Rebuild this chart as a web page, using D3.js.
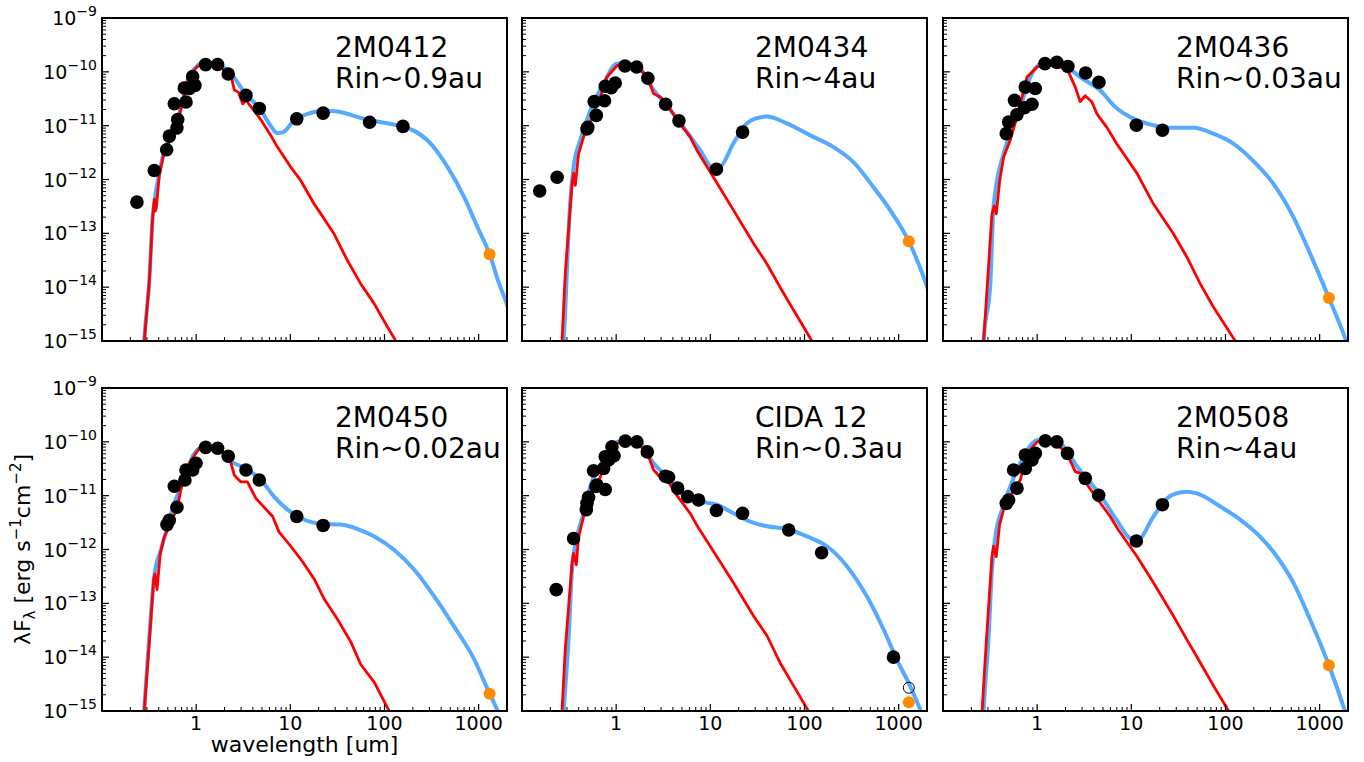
<!DOCTYPE html>
<html><head><meta charset="utf-8">
<script src="https://cdn.jsdelivr.net/npm/d3@7"></script>
<style>body{margin:0;background:#fff;} text{font-family:"DejaVu Sans",sans-serif;fill:#000;}</style>
</head><body><svg id="c" width="1364" height="762"></svg>
<script>
// ---------- data (wavelength [um], lambda*F_lambda [erg s^-1 cm^-2]) ----------
const panelNames = ["2M0412","2M0434","2M0436","2M0450","CIDA 12","2M0508"];
const panelRin = ["Rin~0.9au","Rin~4au","Rin~0.03au","Rin~0.02au","Rin~0.3au","Rin~4au"];
const xTickValues = [1,10,100,1000];
const xTickLabels = ["1","10","100","1000"];
const yTickExponents = [-9,-10,-11,-12,-13,-14,-15];
const xDomain = [0.1, 2000];
const yDomain = [1e-15, 1e-9];

// 2M0412
const obs2M0412 = [[0.235,3.8e-13],[0.359,1.47e-12],[0.486,3.56e-12],[0.519,6.4e-12],[0.625,9.1e-12],[0.637,1.3e-11],[0.586,2.56e-11],[0.78,2.75e-11],[0.748,5.0e-11],[0.97,5.6e-11],[0.918,8.2e-11],[0.845,4.9e-11],[1.26,1.36e-10],[1.69,1.37e-10],[2.19,9.1e-11],[3.38,3.65e-11],[4.68,2.09e-11],[11.7,1.34e-11],[22.3,1.71e-11],[69.5,1.16e-11],[157,9.7e-12]];
const mm2M0412 = [[1306,4.1e-14]];
const model2M0412 = [[0.275,5e-16],[0.281,1e-15],[0.318,1.3e-14],[0.345,2e-13],[0.365,4.6e-13],[0.406,1.3e-12],[0.458,3.5e-12],[0.54,6.1e-12],[0.636,1.26e-11],[0.72,2.9e-11],[0.81,6.9e-11],[1.0,1.23e-10],[1.17,1.5e-10],[1.4,1.48e-10],[1.69,1.37e-10],[2.34,9.3e-11],[3.38,3.8e-11],[4.68,2.15e-11],[6.3,9.5e-12],[7.2,7.3e-12],[8.3,7.5e-12],[11.0,1.26e-11],[15.3,1.66e-11],[22.9,1.9e-11],[30,1.85e-11],[66,1.29e-11],[149,9.7e-12],[207,8e-12],[311,4.6e-12],[468,1.7e-12],[702,4.7e-13],[973,1.3e-13],[1306,4.1e-14],[1652,1.15e-14],[1990,4.9e-15],[2300,2e-15]];
const phot2M0412 = [[0.275,4e-16],[0.281,1e-15],[0.318,1.3e-14],[0.345,2e-13],[0.36,4.3e-13],[0.368,2.6e-13],[0.378,3e-13],[0.406,1.2e-12],[0.458,3.2e-12],[0.54,6e-12],[0.636,1.2e-11],[0.72,2.8e-11],[0.81,6.7e-11],[1.0,1.2e-10],[1.17,1.45e-10],[1.4,1.45e-10],[1.69,1.35e-10],[2.2,9e-11],[2.35,8.5e-11],[2.54,4.6e-11],[2.8,4.2e-11],[3.12,2.55e-11],[3.4,3e-11],[3.7,2.4e-11],[4.5,1.55e-11],[5.0,1.2e-11],[6.2,6.6e-12],[7.3,4e-12],[10.1,1.7e-12],[12.9,9.6e-13],[17.9,3.5e-13],[21.1,2.3e-13],[29.2,9.7e-14],[40.5,3.1e-14],[56,1.15e-14],[78,4.9e-15],[108,1.8e-15],[132,1e-15],[150,6e-16]];

// 2M0434
const obs2M0434 = [[0.154,6.1e-13],[0.236,1.1e-12],[0.49,8.7e-12],[0.5,9.3e-12],[0.615,1.55e-11],[0.585,2.8e-11],[0.753,2.9e-11],[0.766,5.4e-11],[0.887,5.1e-11],[0.978,6.2e-11],[1.24,1.28e-10],[1.65,1.23e-10],[2.17,7.6e-11],[3.35,2.5e-11],[4.64,1.23e-11],[11.6,1.55e-12],[22,7.6e-12]];
const mm2M0434 = [[1282,7.1e-14]];
const model2M0434 = [[0.27,5e-16],[0.277,1e-15],[0.326,4.1e-13],[0.353,1.7e-12],[0.416,5.4e-12],[0.531,1.9e-11],[0.735,6e-11],[1.02,1.42e-10],[1.3,1.4e-10],[1.7,1.25e-10],[2.5,4.6e-11],[3.5,2.3e-11],[5.0,1.02e-11],[7.8,3.5e-12],[10.8,1.6e-12],[12.7,1.7e-12],[17.6,4.7e-12],[24.4,1.1e-11],[30,1.35e-11],[39.9,1.48e-11],[65,1.1e-11],[115,6.6e-12],[203,4e-12],[331,2.1e-12],[540,7.2e-13],[812,2.7e-13],[1282,7.1e-14],[1910,1.3e-14],[2300,5e-15]];
const phot2M0434 = [[0.262,5e-16],[0.266,1e-15],[0.288,1.8e-14],[0.34,8.3e-13],[0.353,1.3e-12],[0.368,7.8e-13],[0.399,3e-12],[0.451,6.2e-12],[0.575,1.66e-11],[0.678,3.4e-11],[0.798,8e-11],[1.02,1.3e-10],[1.2,1.4e-10],[1.6,1.25e-10],[2.12,8.6e-11],[2.5,3.9e-11],[2.94,3.4e-11],[3.3,2.8e-11],[4.6,1.18e-11],[6.1,6.2e-12],[7.2,3.5e-12],[10.8,1.1e-12],[17.6,2.7e-13],[28.8,6.5e-14],[40,2.7e-14],[55,1e-14],[77,3.7e-15],[120,1e-15],[140,5e-16]];

// 2M0436
const obs2M0436 = [[0.47,7.1e-12],[0.498,1.17e-11],[0.61,1.6e-11],[0.575,2.95e-11],[0.735,2.15e-11],[0.748,5.2e-11],[0.881,2.5e-11],[0.955,4.9e-11],[1.21,1.42e-10],[1.62,1.5e-10],[2.12,1.26e-10],[3.27,9.5e-11],[4.53,6.4e-11],[11.3,1.02e-11],[21.4,8.2e-12]];
const mm2M0436 = [[1253,6.3e-15]];
const model2M0436 = [[0.265,5e-16],[0.27,1e-15],[0.318,1.15e-14],[0.344,3.1e-13],[0.44,3e-12],[0.518,7.1e-12],[0.662,2.2e-11],[0.845,8e-11],[1.08,1.41e-10],[1.49,1.62e-10],[2.0,1.3e-10],[2.86,8e-11],[4.68,4.5e-11],[7.0,2.1e-11],[10.5,1.35e-11],[17.2,1.02e-11],[28,9.1e-12],[45.7,9.1e-12],[74.6,7.1e-12],[122,4.6e-12],[198,2.2e-12],[323,8.3e-13],[527,2e-13],[792,4.2e-14],[1253,6.3e-15],[1910,1e-15],[2100,6e-16]];
const phot2M0436 = [[0.265,5e-16],[0.27,1e-15],[0.293,8.7e-15],[0.331,2.3e-13],[0.35,3.2e-13],[0.368,2.3e-13],[0.4,9.5e-13],[0.44,2.6e-12],[0.518,5.4e-12],[0.61,1.45e-11],[0.69,3.4e-11],[0.78,8e-11],[1.0,1.23e-10],[1.27,1.32e-10],[1.7,1.3e-10],[2.15,1e-10],[2.54,5.2e-11],[2.86,2.8e-11],[3.24,3.6e-11],[3.82,2.75e-11],[4.31,1.66e-11],[5.5,9.3e-12],[7.0,4.6e-12],[11.5,1.3e-12],[17.2,3.5e-13],[28,9.8e-14],[39,3.6e-14],[54,1.15e-14],[75,4.2e-15],[127,1e-15],[140,6e-16]];

// 2M0450
const obs2M0450 = [[0.49,2.9e-12],[0.518,3.5e-12],[0.586,1.5e-11],[0.625,6.1e-12],[0.76,1.95e-11],[0.78,3e-11],[0.918,3e-11],[0.996,4e-11],[1.26,7.9e-11],[1.69,7.6e-11],[2.19,5.4e-11],[3.38,3e-11],[4.68,1.95e-11],[11.7,4.1e-12],[22.3,2.8e-12]];
const mm2M0450 = [[1306,2.1e-15]];
const model2M0450 = [[0.275,5e-16],[0.281,1e-15],[0.318,2.4e-14],[0.359,3.2e-13],[0.423,1e-12],[0.498,2.7e-12],[0.586,7.2e-12],[0.748,1.95e-11],[0.881,4.6e-11],[1.08,7.6e-11],[1.25,8.2e-11],[1.69,7.5e-11],[2.34,4.3e-11],[3.0,3.5e-11],[4.9,1.95e-11],[6.75,9.5e-12],[9.35,5.5e-12],[13,3.8e-12],[21.1,3e-12],[34.4,2.9e-12],[51.8,2.4e-12],[78,1.75e-12],[127,9.8e-13],[207,4.2e-13],[337,1.35e-13],[550,3.7e-14],[896,9.1e-15],[1306,2.1e-15],[1585,1e-15],[1800,5e-16]];
const phot2M0450 = [[0.275,5e-16],[0.281,1e-15],[0.318,1.9e-14],[0.354,2.8e-13],[0.365,3.5e-13],[0.384,1.8e-13],[0.416,8.5e-13],[0.458,1.7e-12],[0.54,3.1e-12],[0.636,6.3e-12],[0.72,1.95e-11],[0.845,4e-11],[1.08,7.6e-11],[1.22,8.1e-11],[1.6,7.5e-11],[2.24,5.3e-11],[2.54,2.4e-11],[2.99,1.8e-11],[3.5,1.8e-11],[4.31,8.9e-12],[6.5,4.1e-12],[7.6,2.1e-12],[10.1,1.15e-12],[13,6.5e-13],[18,2.8e-13],[22.9,1.2e-13],[31.8,5e-14],[44,1.9e-14],[56,7.3e-15],[78,3.4e-15],[112,1e-15],[130,6e-16]];

// CIDA 12
const obsCIDA12 = [[0.231,1.8e-13],[0.353,1.6e-12],[0.482,5.5e-12],[0.49,7.2e-12],[0.509,9.3e-12],[0.625,1.58e-11],[0.61,1.48e-11],[0.575,2.9e-11],[0.766,1.3e-11],[0.735,3.2e-11],[0.766,5.3e-11],[0.83,4.6e-11],[0.902,8.1e-11],[0.95,5.5e-11],[1.25,1.03e-10],[1.66,1e-10],[2.14,6.5e-11],[3.33,2.3e-11],[3.6,2.2e-11],[4.5,1.38e-11],[5.75,9.6e-12],[7.5,8.3e-12],[11.6,5.3e-12],[22,4.7e-12],[68,2.3e-12],[152,8.7e-13],[881,1e-14]];
const openCIDA12 = [[1282,2.7e-15]];
const mmCIDA12 = [[1282,1.45e-15]];
const modelCIDA12 = [[0.27,5e-16],[0.277,1e-15],[0.313,2.4e-14],[0.34,4.2e-13],[0.384,1.7e-12],[0.451,4.7e-12],[0.531,1.48e-11],[0.735,4.6e-11],[1.02,1e-10],[1.3,1.08e-10],[1.8,9.5e-11],[2.5,4e-11],[3.5,2.2e-11],[5.0,1.07e-11],[7.8,7.8e-12],[11.7,6.8e-12],[17.6,4.7e-12],[26.5,3.3e-12],[40,2.7e-12],[65,2.4e-12],[106,1.75e-12],[173,1.15e-12],[282,4.9e-13],[459,1.35e-13],[690,3.3e-14],[955,9.1e-15],[1324,2.9e-15],[1720,1e-15],[2000,5e-16]];
const photCIDA12 = [[0.262,5e-16],[0.266,1e-15],[0.288,1.4e-14],[0.34,5.6e-13],[0.353,8.5e-13],[0.377,5.2e-13],[0.399,1.7e-12],[0.451,4.1e-12],[0.575,1.29e-11],[0.678,2.2e-11],[0.798,5.3e-11],[1.02,9.3e-11],[1.25,1.05e-10],[1.6,1e-10],[2.12,6.5e-11],[2.5,3e-11],[2.94,2.2e-11],[3.4,2.1e-11],[4.4,1.02e-11],[6.1,4.7e-12],[7.5,2.5e-12],[11.7,7.4e-13],[17.6,2.4e-13],[28.8,5.8e-14],[40,2.5e-14],[55,7.9e-15],[77,2.9e-15],[110,1e-15],[125,6e-16]];

// 2M0508
const obs2M0508 = [[0.47,7.2e-12],[0.498,8.3e-12],[0.61,1.38e-11],[0.562,3e-11],[0.748,3.2e-11],[0.748,5.7e-11],[0.881,4.6e-11],[0.955,6.1e-11],[1.22,1.04e-10],[1.62,1e-10],[2.1,6.1e-11],[3.24,2.1e-11],[4.5,1.02e-11],[11.3,1.44e-12],[21.4,6.8e-12]];
const mm2M0508 = [[1253,7.1e-15]];
const model2M0508 = [[0.265,5e-16],[0.27,1e-15],[0.305,2.4e-14],[0.331,4.2e-13],[0.359,1.7e-12],[0.423,5.5e-12],[0.518,1.48e-11],[0.717,5.3e-11],[1.0,1.07e-10],[1.3,1.1e-10],[1.8,9e-11],[2.65,3.5e-11],[4.68,1.02e-11],[7.0,3.5e-12],[9.7,1.6e-12],[11.5,1.47e-12],[17.2,4.1e-12],[23.9,8.9e-12],[30,1.1e-11],[39,1.18e-11],[49.7,1.1e-11],[88,6.3e-12],[143,3.6e-12],[233,1.74e-12],[351,7.4e-13],[527,2.4e-13],[792,5e-14],[1253,7.1e-15],[1855,1e-15],[2100,5e-16]];
const phot2M0508 = [[0.255,5e-16],[0.26,1e-15],[0.288,1.9e-14],[0.331,7.4e-13],[0.344,1.15e-12],[0.368,7.4e-13],[0.399,2.9e-12],[0.44,5.5e-12],[0.562,1.29e-11],[0.662,1.95e-11],[0.78,6.1e-11],[1.0,1e-10],[1.17,1.07e-10],[1.5,1.02e-10],[2.07,6.1e-11],[2.54,2.8e-11],[2.9,2.6e-11],[3.24,1.8e-11],[4.31,8.9e-12],[5.97,4.1e-12],[7.3,2.3e-12],[11.5,7.4e-13],[17.2,2.4e-13],[28,5.8e-14],[39,2.1e-14],[54,7.9e-15],[75,2.9e-15],[108,1e-15],[125,6e-16]];

const panelObs = [obs2M0412, obs2M0434, obs2M0436, obs2M0450, obsCIDA12, obs2M0508];
const panelMM = [mm2M0412, mm2M0434, mm2M0436, mm2M0450, mmCIDA12, mm2M0508];
const panelOpen = [[], [], [], [], openCIDA12, []];
const panelModel = [model2M0412, model2M0434, model2M0436, model2M0450, modelCIDA12, model2M0508];
const panelPhot = [phot2M0412, phot2M0434, phot2M0436, phot2M0450, photCIDA12, phot2M0508];

// ---------- layout ----------
const colLeft = [102, 522, 943];
const rowTop = [18, 388];
const W = 405, H = 323;
const BLUE = "#55aaff", RED = "#ff0000", ORANGE = "#ff8c00";

const svg = d3.select("#c");
const x = d3.scaleLog().domain(xDomain).range([0, W]);
const y = d3.scaleLog().domain(yDomain).range([H, 0]);

const xMinor = [];
[0.1,1,10,100,1000].forEach(d => { for (let m = 2; m <= 9; m++) { const v = d*m; if (v < xDomain[1]) xMinor.push(v); } });
const yMinor = [];
for (let e = -15; e < -9; e++) for (let m = 2; m <= 9; m++) yMinor.push(m*Math.pow(10, e));

const lineModel = d3.line().x(d => x(d[0])).y(d => y(d[1])).curve(d3.curveMonotoneX);
const linePhot = d3.line().x(d => x(d[0])).y(d => y(d[1]));

panelNames.forEach((name, i) => {
  const col = i % 3, row = Math.floor(i / 3);
  const g = svg.append("g").attr("transform", `translate(${colLeft[col]},${rowTop[row]})`);
  const cid = "clip" + i;
  g.append("clipPath").attr("id", cid).append("rect").attr("width", W).attr("height", H);

  const plot = g.append("g").attr("clip-path", `url(#${cid})`);
  plot.append("path").datum(panelModel[i]).attr("d", lineModel)
    .attr("fill", "none").attr("stroke", BLUE).attr("stroke-width", 4).attr("stroke-linejoin", "round");
  plot.append("path").datum(panelPhot[i]).attr("d", linePhot)
    .attr("fill", "none").attr("stroke", RED).attr("stroke-width", 2.8).attr("stroke-linejoin", "round");

  g.selectAll(".obs").data(panelObs[i]).enter().append("circle")
    .attr("cx", d => x(d[0])).attr("cy", d => y(d[1])).attr("r", 6.8).attr("fill", "#000");
  g.selectAll(".mm").data(panelMM[i]).enter().append("circle")
    .attr("cx", d => x(d[0])).attr("cy", d => y(d[1])).attr("r", 6).attr("fill", ORANGE);
  g.selectAll(".open").data(panelOpen[i]).enter().append("circle")
    .attr("cx", d => x(d[0])).attr("cy", d => y(d[1])).attr("r", 5.5)
    .attr("fill", "none").attr("stroke", "#000").attr("stroke-width", 1);

  // ticks (inward)
  const tg = g.append("g").attr("stroke", "#000");
  xTickValues.forEach(v => tg.append("line").attr("x1", x(v)).attr("x2", x(v)).attr("y1", H).attr("y2", H - 7).attr("stroke-width", 1.2));
  xMinor.forEach(v => tg.append("line").attr("x1", x(v)).attr("x2", x(v)).attr("y1", H).attr("y2", H - 4).attr("stroke-width", 1));
  yTickExponents.forEach(e => tg.append("line").attr("x1", 0).attr("x2", 7).attr("y1", y(Math.pow(10, e))).attr("y2", y(Math.pow(10, e))).attr("stroke-width", 1.2));
  yMinor.forEach(v => tg.append("line").attr("x1", 0).attr("x2", 4).attr("y1", y(v)).attr("y2", y(v)).attr("stroke-width", 1));

  g.append("rect").attr("width", W).attr("height", H).attr("fill", "none").attr("stroke", "#000").attr("stroke-width", 2);

  if (row === 1) {
    xTickValues.forEach((v, k) => g.append("text").attr("x", x(v)).attr("y", H + 19)
      .attr("text-anchor", "middle").attr("font-size", 19).text(xTickLabels[k]));
  }
  if (col === 0) {
    yTickExponents.forEach(e => {
      const t = g.append("text").attr("x", -5).attr("y", y(Math.pow(10, e)) + 7)
        .attr("text-anchor", "end").attr("font-size", 19);
      t.append("tspan").text("10");
      t.append("tspan").attr("font-size", 14).attr("dy", -9).text("\u2212" + (-e));
    });
  }
  const ann = g.append("text").attr("font-size", 28);
  ann.append("tspan").attr("x", 233).attr("y", 38.5).text(name);
  ann.append("tspan").attr("x", 233).attr("y", 70).text(panelRin[i]);
});

// axis labels
svg.append("text").attr("x", colLeft[0] + W / 2).attr("y", 752).attr("text-anchor", "middle")
  .attr("font-size", 22).text("wavelength [um]");
const yl = svg.append("text").attr("transform", `translate(30,${rowTop[1] + H / 2}) rotate(-90)`)
  .attr("text-anchor", "middle").attr("font-size", 22);
yl.append("tspan").text("\u03bbF");
yl.append("tspan").attr("font-size", 15).attr("dy", 5).text("\u03bb");
yl.append("tspan").attr("dy", -5).text(" [erg s");
yl.append("tspan").attr("font-size", 15).attr("dy", -9).text("\u22121");
yl.append("tspan").attr("dy", 9).text("cm");
yl.append("tspan").attr("font-size", 15).attr("dy", -9).text("\u22122");
yl.append("tspan").attr("dy", 9).text("]");
</script>
</body></html>
